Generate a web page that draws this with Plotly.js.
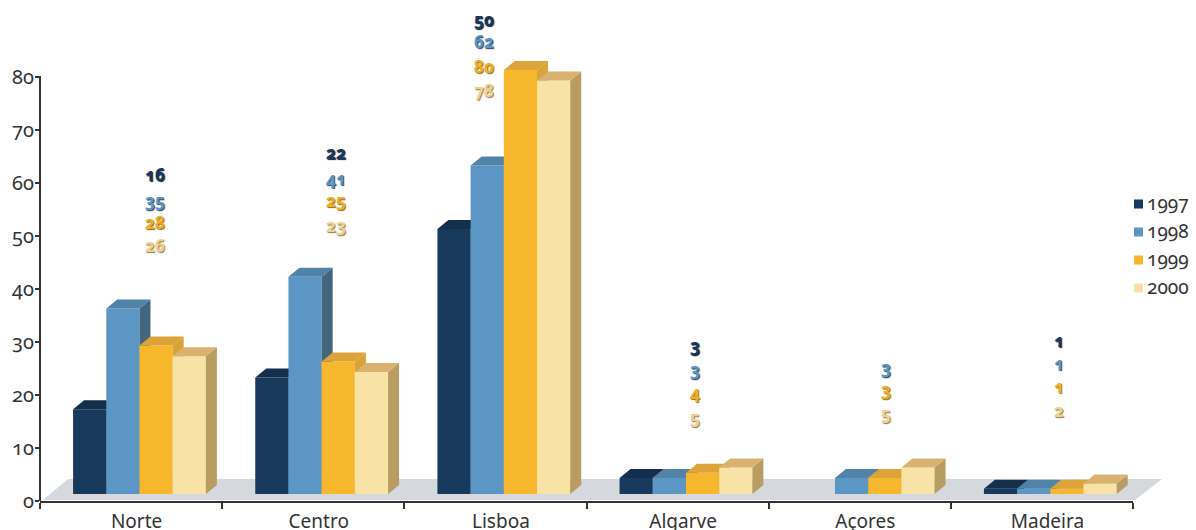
<!DOCTYPE html>
<html>
<head>
<meta charset="utf-8">
<script src="https://cdn.plot.ly/plotly-3.0.1.min.js"></script>
<style>
html,body{margin:0;padding:0;background:#fff;}
svg text{font-feature-settings:"onum" 1 !important;font-variant-numeric:oldstyle-nums !important;}
</style>
</head>
<body>
<div id="chart" style="width:1196px;height:530px;"></div>
<script>
const regions = ['Norte','Centro','Lisboa','Algarve','Açores','Madeira'];
const years = ['1997','1998','1999','2000'];
const v1997 = [16,22,50,3,null,1];
const v1998 = [35,41,62,3,3,1];
const v1999 = [28,25,80,4,3,1];
const v2000 = [26,23,78,5,5,2];
const yTicks = [0,10,20,30,40,50,60,70,80];

const series = [v1997,v1998,v1999,v2000];
const frontColors = ['#17395c','#5b96c4','#f6b72d','#f8e2a6'];
const topColors   = ['#132f4c','#5182a8','#dca338','#d9b26f'];
const sideColors  = ['#122f4b','#43667f','#d9a336','#b89c62'];
const labelColors = ['#17395c','#5b96c4','#f0ad28','#edd190'];
const labelShadow = ['#0c2036','#26445c','#8a6a20','#8a7a50'];

// layout helpers, in axis units
const plotL=40, plotR=1133, plotT=3, plotB=501;
const yMax=498/5.3;
const pxX=(plotR-plotL)/6, pxY=(plotB-plotT)/yMax;
const floorLift=7/pxY, barW=33.2/pxX, barStart=-58/pxX, depthX=11/pxX, depthY=9/pxY;
const tickLabelShift=5.5/pxX;
const labelColPx=[155,336,484,695,886,1059];
const labelRowPx=[[175,201,222,246],[153,178,201,225],[20,42,66,91],[345,369,392,417],[0,367,389,413],[340,363,386,410]];
const legendRowPx=[204,232,260,288];
const py=p=>(plotB-p)/(plotB-plotT), px=p=>(p-plotL)/(plotR-plotL);

const font='"Noto Sans","Open Sans",sans-serif';
const traces=[];
series.forEach((vals,k)=>{
  const ya = k===0?'y':'y'+(k+1);
  traces.push({type:'bar',x:regions.map((_,i)=>i),y:vals,base:floorLift,width:barW,offset:barStart+k*barW,
    marker:{color:frontColors[k],line:{width:0}},name:years[k],xaxis:'x',yaxis:ya,cliponaxis:false,showlegend:false,hoverinfo:'y'});
  const tx=[],ty=[],sx=[],sy=[];
  vals.forEach((v,i)=>{
    if(v===null)return;
    const l=i+barStart+k*barW,r=l+barW,t=floorLift+v,b=floorLift;
    tx.push(l,r,r+depthX,l+depthX,l,null);
    ty.push(t,t,t+depthY,t+depthY,t,null);
    sx.push(r,r+depthX,r+depthX,r,r,null);
    sy.push(t,t+depthY,b+depthY,b,t,null);
  });
  [[sx,sy,sideColors[k]],[tx,ty,topColors[k]]].forEach(f=>{
    traces.push({type:'scatter',mode:'lines',x:f[0],y:f[1],fill:'toself',fillcolor:f[2],line:{width:0,color:f[2]},
      xaxis:'x',yaxis:ya,cliponaxis:false,showlegend:false,hoverinfo:'skip'});
  });
});

const annotations=[];
regions.forEach((reg,i)=>{
  series.forEach((vals,k)=>{
    if(vals[i]===null)return;
    annotations.push({xref:'paper',yref:'paper',x:px(labelColPx[i]),y:py(labelRowPx[i][k]),
      text:'<b>'+vals[i]+'</b>',showarrow:false,xanchor:'center',yanchor:'middle',
      font:{family:font,size:17,color:labelColors[k],shadow:'1px 1px 1px '+labelShadow[k]}});
  });
});
const shapes=[{type:'path',xref:'paper',yref:'paper',layer:'below',line:{width:0},fillcolor:'#d5d8dd',
  path:'M'+[[43,500],[68,479],[1162,479],[1135,500]].map(p=>px(p[0])+','+py(p[1])).join('L')+'Z'},
  {type:'line',xref:'paper',yref:'paper',x0:0,x1:0,y0:0,y1:py(76),line:{color:'#333',width:2}}];
years.forEach((yr,k)=>{
  const cy=py(legendRowPx[k]), hh=4.5/(plotB-plotT);
  shapes.push({type:'rect',xref:'paper',yref:'paper',x0:px(1134),x1:px(1143),y0:cy-hh,y1:cy+hh,fillcolor:frontColors[k],line:{width:0}});
  annotations.push({xref:'paper',yref:'paper',x:px(1145),y:py(legendRowPx[k]-1),text:yr,showarrow:false,xanchor:'left',yanchor:'middle',
    font:{family:font,size:19,color:'#333'}});
});

const overlay={overlaying:'y',range:[0,yMax],visible:false,fixedrange:true};
const layout={
  width:1196,height:530,autosize:false,showlegend:false,barmode:'overlay',
  margin:{l:plotL,r:1196-plotR,t:plotT,b:530-plotB,pad:0},
  paper_bgcolor:'#fff',plot_bgcolor:'rgba(0,0,0,0)',
  font:{family:font,size:19,color:'#333'},
  xaxis:{range:[-0.5,5.5],tickmode:'array',tickvals:regions.map((_,i)=>i+tickLabelShift),ticktext:regions,ticks:'',showgrid:false,zeroline:false,
    showline:true,linecolor:'#333',linewidth:2,ticklabelstandoff:2,tickfont:{family:font,size:19,color:'#333'},
    minor:{tickmode:'array',tickvals:[-0.5,0.5,1.5,2.5,3.5,4.5,5.5],ticks:'outside',ticklen:6,tickwidth:2,tickcolor:'#333',showgrid:false}},
  yaxis:{range:[0,yMax],tickmode:'array',tickvals:yTicks,ticks:'outside',ticklen:4,tickwidth:2,tickcolor:'#333',showgrid:false,zeroline:false,
    showline:false,ticklabelstandoff:-3,tickfont:{family:font,size:20,color:'#333'}},
  yaxis2:overlay,yaxis3:overlay,yaxis4:overlay,
  shapes,annotations
};
Plotly.newPlot('chart',traces,layout,{displayModeBar:false,staticPlot:true});
</script>
</body>
</html>
